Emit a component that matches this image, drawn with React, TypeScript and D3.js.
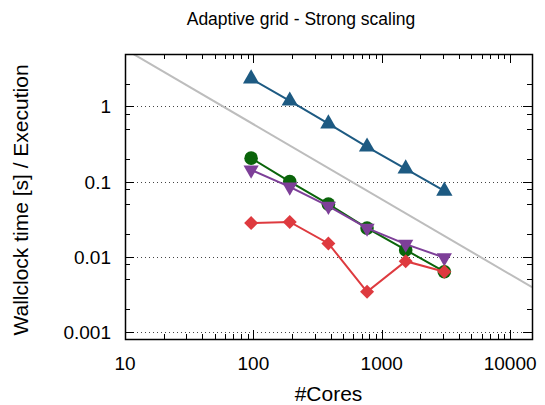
import { useEffect, useRef } from 'react'
import * as d3 from 'd3'

const W = 545
const H = 405
const MARGIN = { top: 54, right: 13, bottom: 66, left: 125 }

const cores = [96, 192, 384, 768, 1536, 3072]
const tetraTimes = [2.34, 1.19, 0.59, 0.29, 0.148, 0.075] // blue triangles
const greenTimes = [0.205, 0.1, 0.05, 0.024, 0.0123, 0.0063]
const purpleTimes = [0.143, 0.085, 0.047, 0.024, 0.0147, 0.0097]
const redTimes = [0.028, 0.029, 0.015, 0.0034, 0.0087, 0.0063]
const xTicks = [10, 100, 1000, 10000]
const yTicks = [0.001, 0.01, 0.1, 1]
const IDEAL_K = 58 // grey ideal scaling line: t = K / cores

const series = [
  { name: 'blue', values: tetraTimes, color: '#1d5a82', marker: 'up' },
  { name: 'green', values: greenTimes, color: '#0a640a', marker: 'circle' },
  { name: 'purple', values: purpleTimes, color: '#7d3f98', marker: 'down' },
  { name: 'red', values: redTimes, color: '#de3a3f', marker: 'diamond' },
]

const FONT = 'Liberation Sans, Arial, sans-serif'

export default function App() {
  const ref = useRef(null)
  const bw = W - MARGIN.left - MARGIN.right
  const bh = H - MARGIN.top - MARGIN.bottom

  useEffect(() => {
    const svg = d3.select(ref.current)
    svg.selectAll('*').remove()

    const x = d3.scaleLog().domain([10, 14800]).range([0, bw])
    const y = d3.scaleLog().domain([0.0008, 5]).range([bh, 0])

    const g = svg.append('g').attr('transform', `translate(${MARGIN.left},${MARGIN.top})`)

    // horizontal dotted grid
    g.selectAll('.grid')
      .data(yTicks)
      .join('line')
      .attr('x1', 0)
      .attr('x2', bw)
      .attr('y1', (d) => Math.round(y(d)) + 0.5)
      .attr('y2', (d) => Math.round(y(d)) + 0.5)
      .attr('stroke', '#444')
      .attr('stroke-width', 1)
      .attr('stroke-dasharray', '1,3')

    // minor ticks
    const xMinor = []
    for (let dec = 10; dec <= 10000; dec *= 10) {
      for (let m = 1; m <= 9; m++) {
        const v = dec * m
        if (v <= 14800) xMinor.push({ v, major: m === 1 })
      }
    }
    const yMinor = []
    for (let dec = 0.0001; dec <= 1.5; dec *= 10) {
      for (const m of [1, 2, 5, 8]) {
        const v = dec * m
        if (v >= 0.0008 && v <= 5) yMinor.push({ v, major: m === 1 })
      }
    }

    const tickColor = '#000'
    xMinor.forEach(({ v, major }) => {
      const px = Math.round(x(v)) + 0.5
      const len = major ? 9 : 5
      g.append('line').attr('x1', px).attr('x2', px).attr('y1', bh).attr('y2', bh - len).attr('stroke', tickColor)
      g.append('line').attr('x1', px).attr('x2', px).attr('y1', 0).attr('y2', len).attr('stroke', tickColor)
    })
    yMinor.forEach(({ v, major }) => {
      const py = Math.round(y(v)) + 0.5
      const len = major ? 9 : 5
      g.append('line').attr('x1', 0).attr('x2', len).attr('y1', py).attr('y2', py).attr('stroke', tickColor)
      g.append('line').attr('x1', bw).attr('x2', bw - len).attr('y1', py).attr('y2', py).attr('stroke', tickColor)
    })

    // ideal line
    const clipId = 'plotclip'
    svg.append('defs').append('clipPath').attr('id', clipId)
      .append('rect').attr('width', bw).attr('height', bh)
    const idealX = [10, 14800]
    g.append('path')
      .attr('clip-path', `url(#${clipId})`)
      .attr('d', d3.line().x((d) => x(d)).y((d) => y(IDEAL_K / d))(idealX))
      .attr('fill', 'none')
      .attr('stroke', '#bdbdbd')
      .attr('stroke-width', 2)

    // series
    const line = d3.line().x((d) => x(d[0])).y((d) => y(d[1]))
    series.forEach((s) => {
      const pts = cores.map((c, i) => [c, s.values[i]])
      g.append('path')
        .attr('d', line(pts))
        .attr('fill', 'none')
        .attr('stroke', s.color)
        .attr('stroke-width', 2)
      let sym
      if (s.marker === 'up') sym = d3.symbol(d3.symbolTriangle, 115)
      else if (s.marker === 'down') sym = d3.symbol(d3.symbolTriangle, 100)
      else if (s.marker === 'circle') sym = d3.symbol(d3.symbolCircle, 145)
      else sym = d3.symbol(d3.symbolSquare, 98)
      g.selectAll(null)
        .data(pts)
        .join('path')
        .attr('d', sym)
        .attr('transform', (d) => {
          const rot = s.marker === 'down' ? ' rotate(180)' : s.marker === 'diamond' ? ' rotate(45)' : ''
          return `translate(${x(d[0])},${y(d[1])})${rot}`
        })
        .attr('fill', s.color)
    })

    // frame
    g.append('rect')
      .attr('x', 0.5).attr('y', 0.5)
      .attr('width', bw).attr('height', bh)
      .attr('fill', 'none').attr('stroke', '#000').attr('stroke-width', 1.5)

    // tick labels
    g.selectAll('.xl')
      .data(xTicks)
      .join('text')
      .attr('x', (d) => x(d))
      .attr('y', bh + 31)
      .attr('text-anchor', 'middle')
      .style('font-family', FONT)
      .style('font-size', '19px')
      .text((d) => String(d))
    g.selectAll('.yl')
      .data(yTicks)
      .join('text')
      .attr('x', -14)
      .attr('y', (d) => y(d) + 7)
      .attr('text-anchor', 'end')
      .style('font-family', FONT)
      .style('font-size', '19px')
      .text((d) => String(d))

    svg.append('text')
      .attr('x', MARGIN.left + bw / 2)
      .attr('y', 401)
      .attr('text-anchor', 'middle')
      .style('font-family', FONT)
      .style('font-size', '21px')
      .text('#Cores')
    svg.append('text')
      .attr('transform', `translate(28,200) rotate(-90)`)
      .attr('text-anchor', 'middle')
      .style('font-family', FONT)
      .style('font-size', '21px')
      .text('Wallclock time [s] / Execution')
    svg.append('text')
      .attr('x', 301)
      .attr('y', 25)
      .attr('text-anchor', 'middle')
      .style('font-family', FONT)
      .style('font-size', '17.5px')
      .text('Adaptive grid - Strong scaling')
  }, [])

  return (
    <svg
      ref={ref}
      width={W}
      height={H}
      style={{ position: 'absolute', left: 0, top: 0, background: '#fff' }}
    />
  )
}
